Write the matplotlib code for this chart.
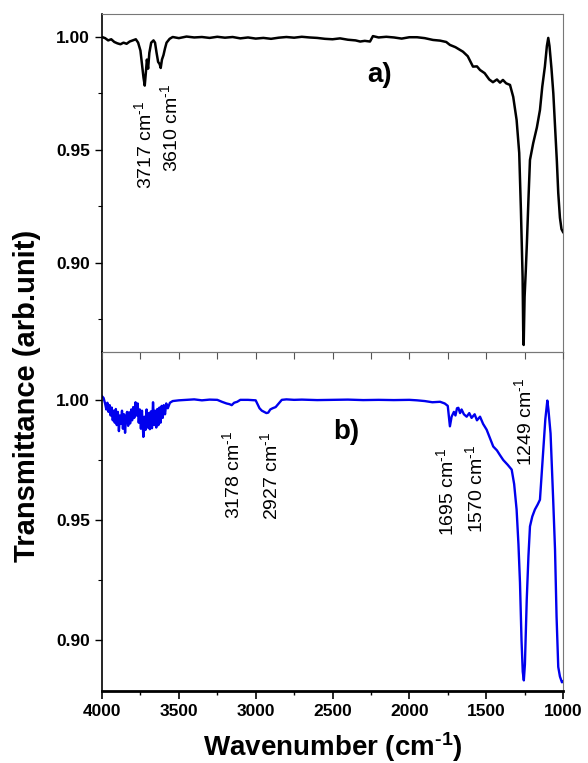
import matplotlib
matplotlib.use("Agg")
import matplotlib.pyplot as plt
from matplotlib.ticker import MultipleLocator, FormatStrFormatter

plt.rcParams['font.family'] = ['Liberation Sans', 'DejaVu Sans']
plt.rcParams['mathtext.default'] = 'regular'

# spectrum a) (black)
wn_a = [4000, 3980, 3960, 3940, 3920, 3900, 3880, 3860, 3840, 3820, 3800, 3780,
        3765, 3750, 3740, 3730, 3722, 3715, 3708, 3700, 3692, 3680, 3665, 3655,
        3645, 3635, 3625, 3618, 3610, 3600, 3590, 3580, 3560, 3540, 3500, 3450,
        3400, 3350, 3300, 3250, 3200, 3150, 3100, 3050, 3000, 2950, 2900, 2850,
        2800, 2750, 2700, 2650, 2600, 2550, 2500, 2451, 2400, 2350, 2320, 2290,
        2256, 2237, 2200, 2150, 2100, 2050, 2000, 1950, 1900, 1846, 1800, 1760,
        1736, 1700, 1651, 1620, 1586, 1560, 1540, 1510, 1480, 1456, 1430, 1410,
        1391, 1370, 1345, 1324, 1302, 1285, 1274, 1263, 1259, 1256, 1250, 1242,
        1235, 1225, 1215, 1194, 1170, 1150, 1135, 1118, 1105, 1096, 1088, 1075,
        1063, 1050, 1040, 1031, 1020, 1010, 1000]
t_a = [1.0000, 0.9995, 0.9985, 0.9990, 0.9978, 0.9972, 0.9968, 0.9975, 0.9970, 0.9980, 0.9985, 0.9990,
       0.9975, 0.9940, 0.9880, 0.9820, 0.9785, 0.9840, 0.9900, 0.9860, 0.9930, 0.9975, 0.9985, 0.9975,
       0.9930, 0.9890, 0.9880, 0.9863, 0.9900, 0.9920, 0.9950, 0.9975, 0.9992, 1.0000, 0.9995, 1.0002,
       0.9998, 1.0000, 0.9996, 1.0001, 0.9997, 1.0000, 0.9994, 0.9998, 0.9993, 0.9996, 0.9992, 0.9997,
       1.0000, 0.9997, 1.0001, 0.9998, 0.9996, 0.9992, 0.9990, 0.9994, 0.9988, 0.9985, 0.9980, 0.9983,
       0.9980, 1.0004, 0.9998, 1.0001, 0.9998, 0.9993, 0.9999, 0.9999, 0.9995, 0.9987, 0.9984, 0.9978,
       0.9965, 0.9955, 0.9935, 0.9915, 0.9869, 0.9870, 0.9854, 0.9840, 0.9812, 0.9800, 0.9812, 0.9798,
       0.9810, 0.9795, 0.9788, 0.9735, 0.9633, 0.9487, 0.9235, 0.8938, 0.8700, 0.8637, 0.8850, 0.8970,
       0.9088, 0.9280, 0.9456, 0.9530, 0.9600, 0.9677, 0.9780, 0.9869, 0.9960, 0.9996, 0.9960, 0.9860,
       0.9750, 0.9580, 0.9450, 0.9310, 0.9200, 0.9150, 0.9137]

# spectrum b) (blue)
wn_b = [4000, 3990, 3980, 3972, 3965, 3958, 3950, 3944, 3937, 3930, 3924, 3917,
        3910, 3904, 3897, 3890, 3884, 3877, 3870, 3864, 3857, 3850, 3844, 3837,
        3830, 3824, 3817, 3810, 3804, 3797, 3790, 3782, 3775, 3768, 3761, 3754,
        3747, 3740, 3731, 3724, 3717, 3710, 3703, 3696, 3689, 3682, 3675, 3668,
        3661, 3654, 3647, 3640, 3633, 3626, 3619, 3612, 3605, 3598, 3590, 3582,
        3572, 3558, 3540, 3500, 3450, 3400, 3350, 3300, 3250, 3220, 3190, 3170,
        3156, 3140, 3120, 3100, 3050, 3000, 2990, 2975, 2960, 2945, 2930, 2918,
        2905, 2890, 2870, 2850, 2830, 2800, 2750, 2700, 2600, 2500, 2400, 2300,
        2200, 2100, 2000, 1950, 1900, 1850, 1800, 1770, 1750, 1736, 1725, 1710,
        1700, 1690, 1681, 1670, 1660, 1645, 1627, 1610, 1595, 1575, 1560, 1540,
        1520, 1497, 1475, 1454, 1430, 1410, 1389, 1360, 1334, 1318, 1302, 1290,
        1280, 1270, 1262, 1255, 1248, 1242, 1236, 1225, 1215, 1200, 1183, 1165,
        1150, 1140, 1128, 1115, 1102, 1095, 1081, 1064, 1052, 1042, 1031, 1020,
        1007, 1000]
t_b = [1.0015, 1.0008, 0.9985, 0.9960, 0.9988, 0.9950, 0.9978, 0.9935, 0.9968, 0.9915, 0.9955, 0.9905,
       0.9962, 0.9895, 0.9950, 0.9870, 0.9935, 0.9900, 0.9955, 0.9880, 0.9940, 0.9863, 0.9925, 0.9950,
       0.9892, 0.9948, 0.9902, 0.9960, 0.9915, 0.9970, 0.9925, 0.9990, 0.9935, 0.9985, 0.9905, 0.9960,
       0.9880, 0.9955, 0.9846, 0.9930, 0.9875, 0.9960, 0.9885, 0.9945, 0.9878, 0.9952, 0.9882, 0.9990,
       0.9895, 0.9955, 0.9885, 0.9962, 0.9895, 0.9968, 0.9905, 0.9975, 0.9925, 0.9978, 0.9940, 0.9985,
       0.9965, 0.9988, 0.9995, 0.9998, 1.0000, 1.0002, 0.9998, 1.0001, 1.0000, 0.9992, 0.9985, 0.9982,
       0.9978, 0.9988, 0.9992, 1.0000, 1.0000, 0.9998, 0.9985, 0.9965, 0.9955, 0.9950, 0.9945, 0.9947,
       0.9960, 0.9965, 0.9970, 0.9985, 1.0000, 1.0002, 1.0000, 1.0001, 0.9999, 1.0000, 1.0001, 0.9999,
       1.0000, 0.9999, 1.0000, 0.9998, 0.9995, 0.9990, 0.9992, 0.9985, 0.9975, 0.9890, 0.9930, 0.9950,
       0.9935, 0.9965, 0.9967, 0.9945, 0.9960, 0.9940, 0.9930, 0.9945, 0.9925, 0.9940, 0.9915, 0.9930,
       0.9900, 0.9876, 0.9840, 0.9806, 0.9790, 0.9770, 0.9750, 0.9730, 0.9710, 0.9650, 0.9544, 0.9400,
       0.9240, 0.9000, 0.8870, 0.8834, 0.8900, 0.9040, 0.9170, 0.9350, 0.9474, 0.9515, 0.9544, 0.9565,
       0.9585, 0.9680, 0.9790, 0.9920, 0.9997, 0.9960, 0.9860, 0.9585, 0.9378, 0.9100, 0.8890, 0.8850,
       0.8826, 0.8830]

# peak labels: text, wavenumber, transmittance (centre of the rotated text)
labels_a = [("3717", 3724, 0.9524), ("3610", 3558, 0.9597)]
labels_b = [("3178", 3151, 0.9689), ("2927", 2907, 0.9685), ("1695", 1762, 0.9618),
            ("1570", 1573, 0.9630), ("1249", 1254, 0.9909)]

sup = 'cm$^{\u2010 1}$'

fig = plt.figure(figsize=(5.88, 7.63), dpi=100)
ax2 = fig.add_axes([0.1735, 0.0944, 0.784, 0.4443])
ax1 = fig.add_axes([0.1735, 0.5387, 0.784, 0.443])
ax1.set_facecolor('none')  # so its bottom ticks show over panel b)

ax1.plot(wn_a, t_a, color='black', lw=1.8)
ax2.plot(wn_b, t_b, color='#0000ee', lw=1.7)

ax1.set_ylim(0.8606, 1.0102)
ax2.set_ylim(0.879, 1.0199)

for ax in (ax1, ax2):
    ax.set_xlim(4000, 1000)
    ax.xaxis.set_major_locator(MultipleLocator(500))
    ax.xaxis.set_minor_locator(MultipleLocator(250))
    ax.yaxis.set_major_locator(MultipleLocator(0.05))
    ax.yaxis.set_minor_locator(MultipleLocator(0.025))
    ax.yaxis.set_major_formatter(FormatStrFormatter('%.2f'))
    ax.tick_params(axis='y', which='major', direction='out', length=5, width=1, labelsize=12.5)
    ax.tick_params(axis='y', which='minor', direction='out', length=3, width=0.8)
    for lab in ax.get_yticklabels():
        lab.set_fontweight('bold')
    for s in ('top', 'right'):
        ax.spines[s].set_color('#777777')
        ax.spines[s].set_linewidth(0.8)
    ax.spines['left'].set_linewidth(1.2)

# ticks of panel a) hang down into panel b)
ax1.tick_params(axis='x', which='both', direction='out', length=5, width=0.8,
                color='#555555', labelbottom=False)
ax1.spines['bottom'].set_color('#777777')
ax1.spines['bottom'].set_linewidth(0.8)

ax2.tick_params(axis='x', which='major', direction='out', length=6, width=1.2, labelsize=12.5)
ax2.tick_params(axis='x', which='minor', direction='out', length=3, width=1)
ax2.spines['bottom'].set_linewidth(2)
for lab in ax2.get_xticklabels():
    lab.set_fontweight('bold')

for txt, x, y in labels_a:
    ax1.text(x, y, txt + ' ' + sup, rotation=90, ha='center', va='center', fontsize=14)
for txt, x, y in labels_b:
    ax2.text(x, y, txt + ' ' + sup, rotation=90, ha='center', va='center', fontsize=14)

ax1.text(0.603, 0.82, 'a)', transform=ax1.transAxes, ha='center', va='center',
         fontsize=20, fontweight='bold')
ax2.text(0.529, 0.764, 'b)', transform=ax2.transAxes, ha='center', va='center',
         fontsize=20, fontweight='bold')

ax2.set_xlabel('Wavenumber (' + sup + ')', fontsize=20, fontweight='bold', labelpad=8)
fig.text(0.046, 0.481, 'Transmittance (arb.unit)', rotation=90, ha='center', va='center',
         fontsize=21, fontweight='bold')

fig.savefig('out.png', dpi=100)
